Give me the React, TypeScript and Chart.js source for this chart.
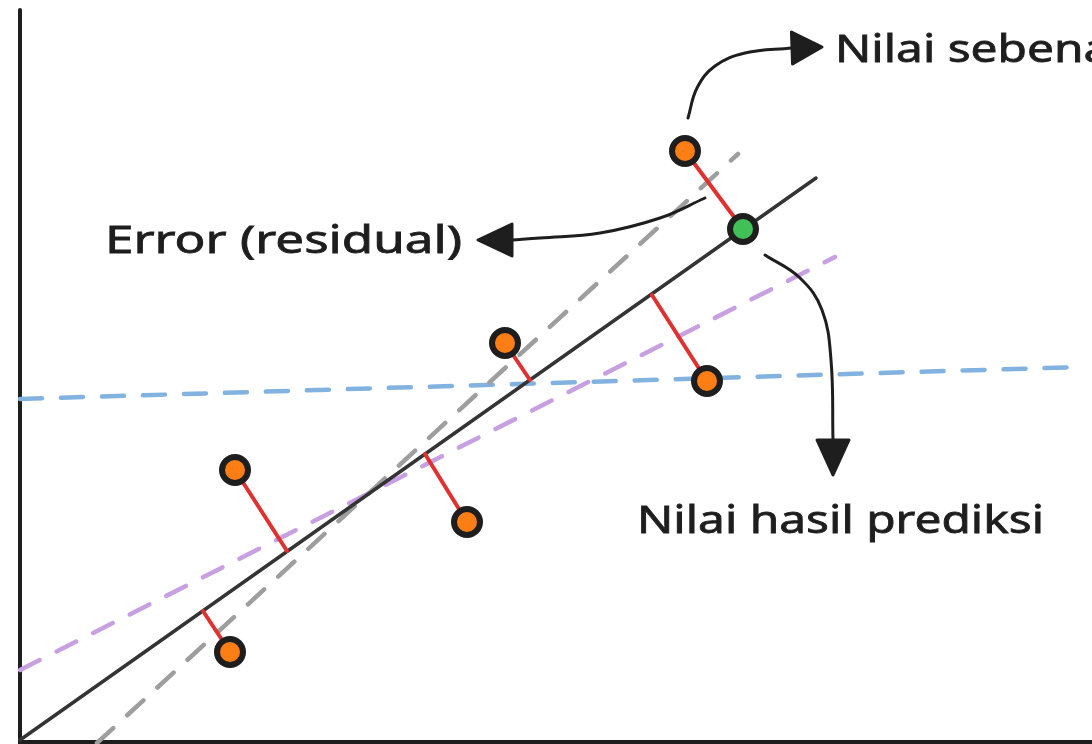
import React, { useEffect, useRef } from "react";
import { Chart, registerables } from "chart.js";

Chart.register(...registerables);

// Data units: 1 unit = 10 px of the original drawing, origin at the axes corner.
const observedX = [66.5, 48.5, 68.7, 21.5, 44.7, 21.0];
const observedY = [59.1, 39.9, 36.1, 27.2, 22.0, 9.0];
const predictedX = [72.3];
const predictedY = [51.3];
const residualFootX = [72.3, 51.0, 63.2, 26.7, 40.5, 18.3];
const residualFootY = [51.3, 36.2, 44.7, 19.1, 28.8, 13.1];

const fitLineX = [0, 79.6];
const fitLineY = [0.2, 56.4];
const steepLineX = [7.7, 71.8];
const steepLineY = [-0.1, 58.8];
const shallowLineX = [0, 81.5];
const shallowLineY = [7.2, 48.5];
const flatLineX = [0, 106];
const flatLineY = [34.3, 37.5];

const yAxisX = [0, 0];
const yAxisY = [-0.2, 73.2];
const xAxisX = [0, 107.2];
const xAxisY = [0, 0];

const arrowTrueX = [66.8, 67.7, 69.5, 72.5, 77.2];
const arrowTrueY = [62.4, 65.4, 67.6, 68.9, 69.4];
const arrowTrueTip = [80.2, 69.5];
const arrowErrorX = [68.5, 64.0, 58.0, 52.0, 49.2];
const arrowErrorY = [54.4, 52.4, 50.9, 50.4, 50.2];
const arrowErrorTip = [45.8, 50.2];
const arrowPredX = [74.5, 78.0, 80.2, 81.1, 81.3];
const arrowPredY = [48.7, 46.4, 43.2, 38.2, 30.2];
const arrowPredTip = [81.3, 26.7];

const labelTexts = ["Error (residual)", "Nilai hasil prediksi", "Nilai sebenarnya"];
const labelAnchorX = [8.5, 61.7, 81.5];
const labelAnchorY = [48.9, 20.9, 68.0];
const labelWidthPx = [357, 407, 0]; // 0 => reuse scale of previous label

const INK = "#1e1e1e";

const pts = (xs: number[], ys: number[]) => xs.map((x, i) => ({ x, y: ys[i] }));

export default function App() {
  const ref = useRef<HTMLCanvasElement | null>(null);

  useEffect(() => {
    document.body.style.margin = "0";
    document.body.style.overflow = "hidden";
    const canvas = ref.current;
    if (!canvas) return;

    const arrows = [
      { tip: arrowTrueTip, xs: arrowTrueX, ys: arrowTrueY },
      { tip: arrowErrorTip, xs: arrowErrorX, ys: arrowErrorY },
      { tip: arrowPredTip, xs: arrowPredX, ys: arrowPredY },
    ];

    const annot = {
      id: "annot",
      afterDatasetsDraw(chart: any) {
        const ctx = chart.ctx as CanvasRenderingContext2D;
        const xs = chart.scales.x;
        const ys = chart.scales.y;
        arrows.forEach((a) => {
          const n = a.xs.length - 1;
          const bx = xs.getPixelForValue(a.xs[n]);
          const by = ys.getPixelForValue(a.ys[n]);
          const tx = xs.getPixelForValue(a.tip[0]);
          const ty = ys.getPixelForValue(a.tip[1]);
          const dx = tx - bx;
          const dy = ty - by;
          const len = Math.hypot(dx, dy);
          const nx = -dy / len;
          const ny = dx / len;
          const hw = 16;
          ctx.save();
          ctx.fillStyle = INK;
          ctx.strokeStyle = INK;
          ctx.lineWidth = 3;
          ctx.lineJoin = "round";
          ctx.beginPath();
          ctx.moveTo(tx, ty);
          ctx.lineTo(bx + nx * hw, by + ny * hw);
          ctx.lineTo(bx - nx * hw, by - ny * hw);
          ctx.closePath();
          ctx.fill();
          ctx.stroke();
          ctx.restore();
        });
        ctx.save();
        ctx.font = "39px 'Noto Sans'";
        ctx.fillStyle = INK;
        ctx.strokeStyle = INK;
        ctx.lineWidth = 0.8;
        ctx.textBaseline = "alphabetic";
        ctx.textAlign = "left";
        let lastScale = 1;
        labelTexts.forEach((t, i) => {
          const w = ctx.measureText(t).width;
          const s = labelWidthPx[i] > 0 ? labelWidthPx[i] / w : lastScale;
          lastScale = s;
          const px = xs.getPixelForValue(labelAnchorX[i]);
          const py = ys.getPixelForValue(labelAnchorY[i]);
          ctx.save();
          ctx.translate(px, py);
          ctx.scale(s, 1);
          ctx.fillText(t, 0, 0);
          ctx.strokeText(t, 0, 0);
          ctx.restore();
        });
        ctx.restore();
      },
    };

    const lineDs = (data: any[], color: string, width: number, order: number, extra: any = {}) => ({
      type: "line" as const,
      data,
      borderColor: color,
      borderWidth: width,
      pointRadius: 0,
      borderCapStyle: "round" as const,
      fill: false,
      order,
      ...extra,
    });

    const dash = { borderDash: [22, 19] };

    const datasets: any[] = [
      {
        type: "scatter",
        data: pts(observedX, observedY),
        backgroundColor: "#fd7e14",
        borderColor: INK,
        borderWidth: 6,
        pointRadius: 13,
        order: 0,
      },
      {
        type: "scatter",
        data: pts(predictedX, predictedY),
        backgroundColor: "#40c057",
        borderColor: INK,
        borderWidth: 6,
        pointRadius: 13,
        order: 0,
      },
      ...observedX.map((x, i) =>
        lineDs(
          [
            { x, y: observedY[i] },
            { x: residualFootX[i], y: residualFootY[i] },
          ],
          "#e03131",
          4,
          1
        )
      ),
      lineDs(pts(fitLineX, fitLineY), "#343434", 3.5, 2),
      lineDs(pts(steepLineX, steepLineY), "#9e9e9e", 4.5, 3, dash),
      lineDs(pts(shallowLineX, shallowLineY), "#c7a0e2", 4.5, 4, dash),
      lineDs(pts(flatLineX, flatLineY), "#82b2df", 4.5, 5, dash),
      lineDs(pts(arrowTrueX, arrowTrueY), INK, 3, 1, { tension: 0.4 }),
      lineDs(pts(arrowErrorX, arrowErrorY), INK, 3, 1, { tension: 0.4 }),
      lineDs(pts(arrowPredX, arrowPredY), INK, 3, 1, { tension: 0.4 }),
      lineDs(pts(yAxisX, yAxisY), INK, 4, 6, { clip: false }),
      lineDs(pts(xAxisX, xAxisY), INK, 4, 6, { clip: false }),
    ];

    const chart = new Chart(canvas, {
      type: "scatter",
      data: { datasets },
      options: {
        animation: false,
        responsive: true,
        maintainAspectRatio: false,
        layout: { padding: 0, autoPadding: false },
        plugins: { legend: { display: false }, tooltip: { enabled: false } },
        scales: {
          x: { type: "linear", min: -2, max: 107.2, display: false },
          y: { type: "linear", min: -0.2, max: 74.2, display: false },
        },
      },
      plugins: [annot],
    });
    return () => chart.destroy();
  }, []);

  return (
    <div style={{ width: 1092, height: 744, position: "relative", background: "#fff" }}>
      <canvas ref={ref} />
    </div>
  );
}
